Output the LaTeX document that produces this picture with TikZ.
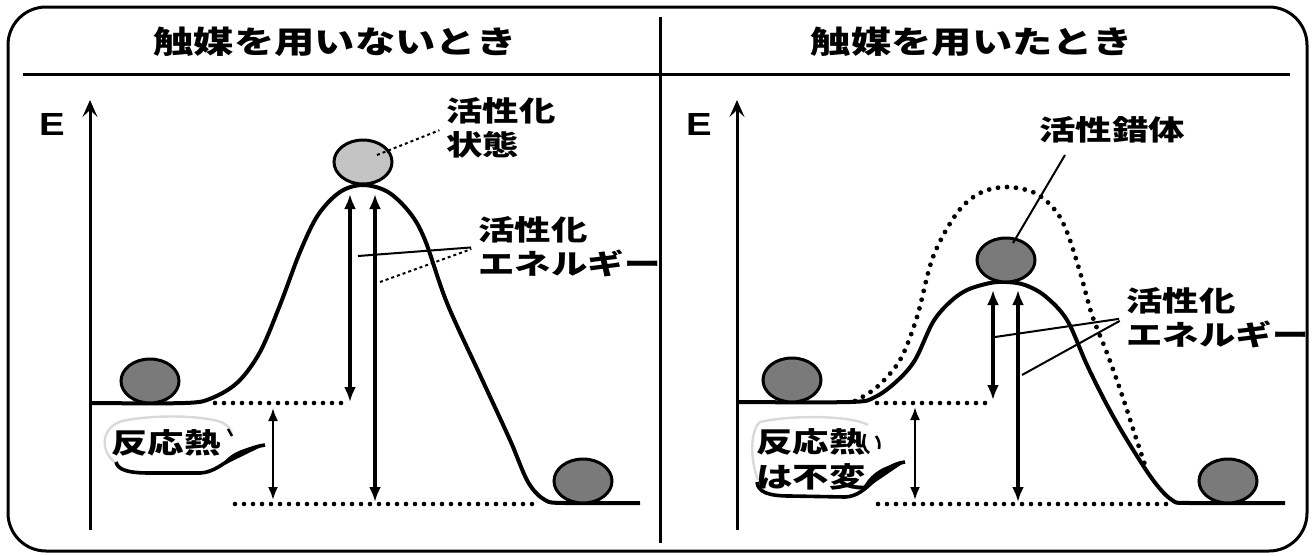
\documentclass[tikz,border=0pt]{standalone}
\usepackage{fontspec}
\newfontfamily\jp[FakeStretch=1.3]{Noto Sans CJK JP}
\newfontfamily\lat[FakeStretch=1.2]{Liberation Sans}
\usetikzlibrary{arrows.meta,positioning,shapes.geometric}

\begin{document}
\begin{tikzpicture}[x=1pt,y=-1pt,>={Latex[length=15pt,width=12pt]},line width=3pt,
  ttl/.style={font=\jp\bfseries\fontsize{31}{36}\selectfont,inner sep=0pt},
  lbl/.style={font=\jp\bfseries\fontsize{28}{34}\selectfont,align=left,inner sep=0pt},
  ball/.style={ellipse,draw,line width=3pt,fill=black!52,minimum width=58pt,minimum height=44pt,inner sep=0pt},
  level/.style={line width=4pt,line join=round},
  dots/.style={line width=4.6pt,line cap=round,dash pattern=on 0pt off 9pt},
  lead/.style={line width=2pt,shorten >=6pt},
  ea/.style={<->,line width=3.6pt},
  ha/.style={{Latex[length=13pt,width=10pt]}-{Latex[length=13pt,width=10pt]},line width=2.2pt}]
\useasboundingbox (0,0) rectangle (1315,555);
% frame, divider and title row
\draw[rounded corners=38pt] (8,7) rectangle (1307,551);
\draw (660,17) -- (660,543);
\draw (23,74) -- (1290,74);
\node[ttl] (tl) at (335,42) {触媒を用いないとき};
\node[ttl] (tr) at (972,42) {触媒を用いたとき};
% energy axes
\foreach \n/\x in {l/90,r/737} {
  \coordinate (a0\n) at (\x,530);
  \coordinate (a1\n) at (\x,100);
  \draw[-{Stealth[length=17pt,width=15pt,inset=7pt]}] (a0\n) -- (a1\n);
  \node[inner sep=0pt,font=\lat\bfseries\fontsize{32}{36}\selectfont] (e\n) at (\x-38,124) {E};
}
% without catalyst
\draw[level] plot[smooth,tension=.55] coordinates {(90,403) (185,403) (212,398) (238,382) (260,352) (280,305) (300,252) (318,215) (340,192) (363,185) (388,192) (410,213) (425,240) (447,303) (480,375) (510,440) (528,482) (545,500) (565,503) (640,503)};
\draw[dots] (215,403) -- (343,403);
\draw[dots] (235,504) -- (532,504);
\node[ball] (rl) at (150,381) {};
\node[ball] (pl) at (583,481) {};
\node[ball,fill=black!23] (ts) at (363,162) {};
\coordinate (u1) at (350,194); \coordinate (d1) at (350,402);
\coordinate (u2) at (375,194); \coordinate (d2) at (375,502);
\coordinate (u3) at (273,408); \coordinate (d3) at (273,500);
\draw[ea] (u1) -- (d1);
\draw[ea] (u2) -- (d2);
\draw[ha] (u3) -- (d3);
\node[lbl,anchor=west] (tsl) at (445,128) {活性化\\状態};
\node[lbl,anchor=west] (eal) at (477,247) {活性化\\エネルギー};
\coordinate (k0) at (377,155);
\coordinate (k1) at (358,256);
\coordinate (k2) at (380,282);
\draw[lead,dashed] (k0) -- (tsl.west);
\draw[lead] (k1) -- (eal.west);
\draw[lead,dashed] (k2) -- (eal.west);
% bubble: heat of reaction
\draw[gray!30,line width=2.4pt] (116,463) .. controls (100,452) and (100,428) .. (122,421) .. controls (150,415) and (195,415) .. (218,421) .. controls (228,424) and (232,430) .. (232,436);
\draw[line width=3.6pt] (116,462) .. controls (118,470) and (128,473) .. (150,473) -- (200,473) .. controls (222,472) and (232,450) .. (265,445);
\fill (265,445) .. controls (245,447) and (232,452) .. (224,462) -- (214,470) -- cycle;
\draw[line width=2.4pt] (228,429) -- (232,436);
\node[lbl] (hl) at (166,443) {反応熱};
% with catalyst
\draw[dots,line width=4.8pt] plot[smooth,tension=.55] coordinates {(855,401) (877,387) (900,360) (917,317) (933,257) (957,213) (980,193) (1007,187) (1035,193) (1055,210) (1067,232) (1080,272) (1092,315) (1107,353) (1122,395) (1135,435) (1145,465)};
\draw[level] plot[smooth,tension=.55] coordinates {(737,402) (850,402) (875,397) (897,381) (915,360) (933,322) (950,302) (967,290) (990,283) (1007,282) (1025,285) (1045,296) (1067,320) (1087,365) (1107,405) (1127,440) (1153,480) (1172,500) (1190,503) (1285,503)};
\draw[dots] (877,403) -- (988,403);
\draw[dots] (878,504) -- (1170,504);
\node[ball] (rr) at (792,380) {};
\node[ball] (pr) at (1228,481) {};
\node[ball] (cx) at (1006,260) {};
\coordinate (u4) at (993,290); \coordinate (d4) at (993,400);
\coordinate (u5) at (1018,290); \coordinate (d5) at (1018,502);
\coordinate (u6) at (915,407); \coordinate (d6) at (915,500);
\draw[ea] (u4) -- (d4);
\draw[ea] (u5) -- (d5);
\draw[ha] (u6) -- (d6);
\node[lbl] (tsr) at (1112,130) {活性錯体};
\node[lbl,anchor=west] (ear) at (1125,318) {活性化\\エネルギー};
\coordinate (k3) at (1013,243);
\coordinate (k4) at (1065,155);
\coordinate (k5) at (995,337);
\coordinate (k6) at (1022,375);
\draw[lead,shorten >=0pt] (k3) -- (k4);
\draw[lead] (k5) -- (ear.west);
\draw[lead] (k6) -- (ear.west);
% bubble: heat unchanged
\draw[gray!30,line width=2.4pt] (758,480) .. controls (750,460) and (750,430) .. (760,422) .. controls (790,415) and (850,415) .. (868,425);
\draw[line width=3.6pt] (757,482) .. controls (758,492) and (768,496) .. (790,496) -- (845,497) .. controls (870,496) and (878,465) .. (905,462);
\fill (905,462) .. controls (888,464) and (876,470) .. (868,480) -- (858,494) -- cycle;
\draw[line width=2.6pt] (865,434) .. controls (862,443) and (864,450) .. (869,453);
\draw[line width=2.6pt] (876,436) .. controls (879,440) and (880,444) .. (879,449);
\node[lbl,anchor=west,font=\jp\bfseries\fontsize{28}{35}\selectfont] (hr) at (755,459) {反応熱\\は不変};
\end{tikzpicture}
\end{document}
